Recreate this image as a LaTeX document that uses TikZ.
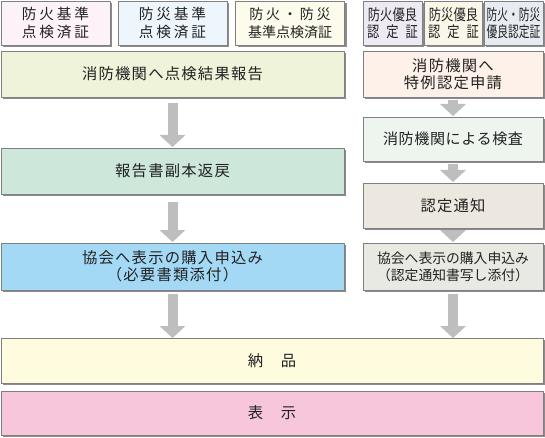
\documentclass[tikz,border=0pt]{standalone}
\usepackage{fontspec}
\usepackage{graphicx}
\setmainfont{Noto Sans CJK JP}
\usetikzlibrary{arrows.meta,shadows}
\definecolor{cT1}{HTML}{FDF2F7}
\definecolor{cT2}{HTML}{EDF6FD}
\definecolor{cT3}{HTML}{FDFBEC}
\definecolor{cRA}{HTML}{EEEAF4}
\definecolor{cRB}{HTML}{FAF6E8}
\definecolor{cRC}{HTML}{E6ECF2}
\definecolor{cL1}{HTML}{EEF3DA}
\definecolor{cR1}{HTML}{FDF1E9}
\definecolor{cL2}{HTML}{CDE7DA}
\definecolor{cR2}{HTML}{EEF5EE}
\definecolor{cR3}{HTML}{ECE8E0}
\definecolor{cL3}{HTML}{A4D9F6}
\definecolor{cR4}{HTML}{E8E9E2}
\definecolor{cB1}{HTML}{FFFBDE}
\definecolor{cB2}{HTML}{F7C6DB}
\definecolor{arrowgray}{HTML}{BEBEBE}
\definecolor{txt}{HTML}{222222}
\begin{document}
\begin{tikzpicture}[x=0.75pt,y=-0.75pt,
  box/.style={draw=black!50, line width=0.6pt, rectangle, inner sep=0pt, outer sep=0pt,
    align=center, text=txt,
    drop shadow={shadow xshift=1.6pt, shadow yshift=-1.6pt, fill=black!45, opacity=1}},
  wide/.style={font=\fontsize{11.5pt}{13pt}\selectfont\addfontfeature{LetterSpace=8}},
  topl/.style={font=\fontsize{11pt}{13.5pt}\selectfont\addfontfeature{LetterSpace=19}},
  narrow/.style={font=\fontsize{11.5pt}{13pt}\selectfont\addfontfeature{FakeStretch=0.8}},
  narrower/.style={font=\fontsize{11.5pt}{13pt}\selectfont\addfontfeature{FakeStretch=0.7}},
  flow/.style={draw=arrowgray, line width=7.5pt, -{Triangle[width=19.5pt,length=9pt,line width=0pt]}}]
\useasboundingbox (0,0) rectangle (545,438);
% top row
\node[box, topl, fill=cT1, minimum width=81.75pt, minimum height=33pt] (t1) at (55.5,23) {防火基準\\点検済証};
\node[box, topl, fill=cT2, minimum width=81.75pt, minimum height=33pt] (t2) at (172.5,23) {防災基準\\点検済証};
\node[box, fill=cT3, minimum width=81.75pt, minimum height=33pt, font=\fontsize{10.5pt}{13.5pt}\selectfont] (t3) at (290,23) {{\addfontfeature{LetterSpace=20}防火・防災}\\基準点検済証};
\node[box, narrow, fill=cRA, minimum width=44.25pt, minimum height=33pt] (ra) at (392.5,23) {防火優良\\認\hspace{0.45em}定\hspace{0.45em}証};
\node[box, narrow, fill=cRB, minimum width=43.5pt, minimum height=33pt] (rb) at (453.5,23) {防災優良\\認\hspace{0.45em}定\hspace{0.45em}証};
\node[box, narrower, fill=cRC, minimum width=44.25pt, minimum height=33pt] (rc) at (513.5,23) {防火・防災\\優良認定証};
% left column
\node[box, wide, fill=cL1, minimum width=257.25pt, minimum height=34.5pt] (L1) at (172.5,74) {消防機関へ点検結果報告};
\node[box, wide, fill=cL2, minimum width=257.25pt, minimum height=34.5pt] (L2) at (172.5,171) {報告書副本返戻};
\node[box, wide, fill=cL3, minimum width=257.25pt, minimum height=35.25pt] (L3) at (172.5,266.5) {協会へ表示の購入申込み\\（必要書類添付）};
% right column
\node[box, wide, fill=cR1, minimum width=135pt, minimum height=34.5pt] (R1) at (453,74) {消防機関へ\\特例認定申請};
\node[box, fill=cR2, minimum width=135pt, minimum height=33pt, font=\fontsize{11.3pt}{13pt}\selectfont\addfontfeature{LetterSpace=4}] (R2) at (453,139) {消防機関による検査};
\node[box, wide, fill=cR3, minimum width=135pt, minimum height=33.75pt] (R3) at (453,205.5) {認定通知};
\node[box, fill=cR4, minimum width=135pt, minimum height=35.25pt, font=\fontsize{10.35pt}{12.8pt}\selectfont] (R4) at (453,266.5) {協会へ表示の購入申込み\\（認定通知書写し添付）};
% bottom rows
\node[box, wide, fill=cB1, minimum width=406.5pt, minimum height=33.75pt] (B1) at (272,360.5) {納　品};
\node[box, wide, fill=cB2, minimum width=406.5pt, minimum height=33pt] (B2) at (272,413) {表　示};
% arrows
\draw[flow, shorten <=4.5pt, shorten >=0.75pt] (L1) -- (L2);
\draw[flow, shorten <=6pt, shorten >=0.75pt] (L2) -- (L3);
\draw[flow, shorten <=3pt] (L3.south) -- (L3.south |- B1.north);
\draw[flow, shorten <=2.25pt, shorten >=0.75pt] (R1) -- (R2);
\draw[flow, shorten <=2.25pt, shorten >=0.75pt] (R2) -- (R3);
\draw[flow, shorten <=2.25pt, shorten >=0.75pt] (R3) -- (R4);
\draw[flow, shorten <=3pt] (R4.south) -- (R4.south |- B1.north);
\end{tikzpicture}
\end{document}
